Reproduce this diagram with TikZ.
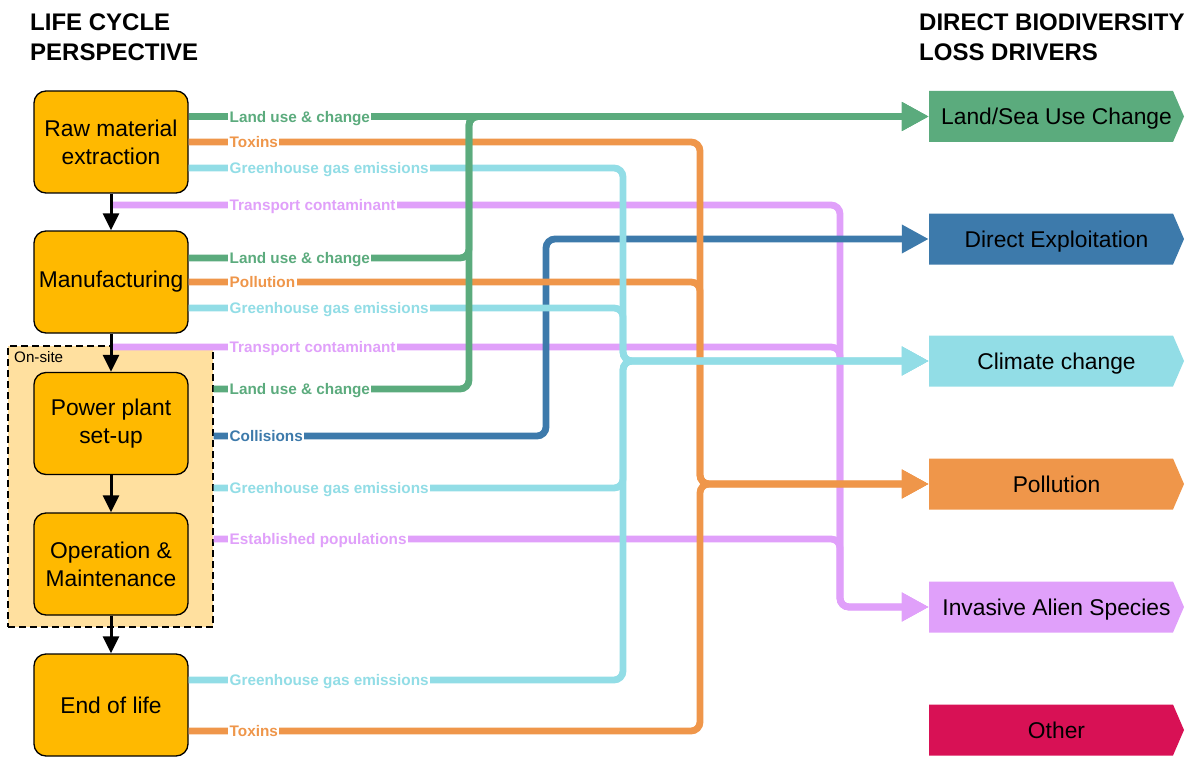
\documentclass[tikz,border=0pt]{standalone}
\usepackage{fontspec}
\setmainfont{Liberation Sans}
\usetikzlibrary{arrows.meta}
\definecolor{cgreen}{HTML}{5BAB7D}
\definecolor{cblue}{HTML}{3D7AAB}
\definecolor{ccyan}{HTML}{92DDE6}
\definecolor{corange}{HTML}{EF964A}
\definecolor{cviolet}{HTML}{E0A0FA}
\definecolor{ccrimson}{HTML}{D81155}
\definecolor{cbox}{HTML}{FFB900}
\definecolor{consite}{HTML}{FFE09F}
\tikzset{
 stage/.style={draw=black, line width=1.3pt, fill=cbox, rounded corners=12pt, minimum width=154pt, minimum height=102pt, align=center, inner sep=2pt, font=\fontsize{22.8}{28}\selectfont},
 driver/.style={minimum width=255pt, minimum height=51pt, inner sep=0pt, text height=16.4pt, text depth=0pt, font=\fontsize{22.8}{28}\selectfont},
 flow/.style={line width=6.8pt, rounded corners=9pt},
 tip/.style={-{Triangle[length=27pt,width=27pt]}},
 lbl/.style={anchor=base west, fill=white, inner xsep=1.5pt, inner ysep=1pt, font=\fontsize{15.3}{18}\selectfont\bfseries},
 ttl/.style={anchor=base west, inner sep=0pt, font=\fontsize{24}{28}\selectfont\bfseries},
 seqarrow/.style={line width=3pt, -{Triangle[length=17pt,width=16pt]}},
}
\begin{document}
\begin{tikzpicture}[x=1pt,y=-1pt]
\useasboundingbox (0,0) rectangle (1200,757);

% titles
\node[ttl] (t1) at (30,31) {LIFE CYCLE};
\node[ttl] (t2) at (30,61) {PERSPECTIVE};
\node[ttl] (t3) at (919,31) {DIRECT BIODIVERSITY};
\node[ttl] (t4) at (919,61) {LOSS DRIVERS};

% on-site area
\node[draw=black, dashed, dash pattern=on 7pt off 4pt, line width=1.1pt, fill=consite, minimum width=205pt, minimum height=281pt, inner sep=0pt] (onsite) at (110.5,486.5) {};
\node[anchor=base west, inner sep=0pt, font=\fontsize{15.2}{18}\selectfont] (onsitelbl) at (14,362) {On-site};

% life cycle stages
\node[stage] (raw) at (111,142) {Raw material\\extraction};
\node[stage] (manu) at (111,282) {Manufacturing};
\node[stage] (power) at (111,423.5) {Power plant\\set-up};
\node[stage] (oper) at (111,564) {Operation \&\\Maintenance};
\node[stage] (eol) at (111,705) {End of life};

% drivers
\fill[cgreen] (929,91) -- (1173,91) -- (1184,116.5) -- (1173,142) -- (929,142) -- cycle;
\node[driver] (land) at (1056.5,116.5) {Land/Sea Use Change};
\fill[cblue] (929,213.5) -- (1173,213.5) -- (1184,239) -- (1173,264.5) -- (929,264.5) -- cycle;
\node[driver] (dexp) at (1056.5,239) {Direct Exploitation};
\fill[ccyan] (929,335.5) -- (1173,335.5) -- (1184,361) -- (1173,386.5) -- (929,386.5) -- cycle;
\node[driver] (clim) at (1056.5,361) {Climate change};
\fill[corange] (929,458.5) -- (1173,458.5) -- (1184,484) -- (1173,509.5) -- (929,509.5) -- cycle;
\node[driver] (poll) at (1056.5,484) {Pollution};
\fill[cviolet] (929,581.5) -- (1173,581.5) -- (1184,607) -- (1173,632.5) -- (929,632.5) -- cycle;
\node[driver] (ias) at (1056.5,607) {Invasive Alien Species};
\fill[ccrimson] (929,704.5) -- (1173,704.5) -- (1184,730) -- (1173,755.5) -- (929,755.5) -- cycle;
\node[driver] (other) at (1056.5,730) {Other};

% violet flows
\draw[flow, cviolet, tip] (raw.south |- 0,205) -- (840,205) -- (840,607) -- (ias.west);
\draw[flow, cviolet, tip] (manu.south |- 0,347) -- (840,347) -- (840,607) -- (ias.west);
\draw[flow, cviolet, tip] (onsite.east |- 0,539) -- (840,539) -- (840,607) -- (ias.west);
% blue flow
\draw[flow, cblue, tip] (onsite.east |- 0,436) -- (546,436) -- (546,239) -- (dexp.west);
% orange flows
\draw[flow, corange, tip] (raw.east |- 0,142) -- (700,142) -- (700,484) -- (poll.west);
\draw[flow, corange, tip] (manu.east |- 0,282) -- (700,282) -- (700,484) -- (poll.west);
\draw[flow, corange, tip] (eol.east |- 0,731) -- (700,731) -- (700,484) -- (poll.west);
% cyan flows
\draw[flow, ccyan, tip] (raw.east |- 0,168) -- (623,168) -- (623,361) -- (clim.west);
\draw[flow, ccyan, tip] (manu.east |- 0,308) -- (623,308) -- (623,361) -- (clim.west);
\draw[flow, ccyan, tip] (onsite.east |- 0,488) -- (623,488) -- (623,361) -- (clim.west);
\draw[flow, ccyan, tip] (eol.east |- 0,680) -- (623,680) -- (623,361) -- (clim.west);
% green flows
\draw[flow, cgreen, tip] (raw.east |- land.west) -- (land.west);
\draw[flow, cgreen, tip] (manu.east |- 0,258) -- (469,258) -- (469,116.5) -- (land.west);
\draw[flow, cgreen, tip] (onsite.east |- 0,389) -- (469,389) -- (469,116.5) -- (land.west);

% labels
\node[lbl, text=cgreen] (l1) at (228,122.5) {Land use \& change};
\node[lbl, text=corange] (l2) at (228,147.5) {Toxins};
\node[lbl, text=ccyan] (l3) at (228,173.5) {Greenhouse gas emissions};
\node[lbl, text=cviolet] (l4) at (228,210.5) {Transport contaminant};
\node[lbl, text=cgreen] (l5) at (228,263.5) {Land use \& change};
\node[lbl, text=corange] (l6) at (228,287.5) {Pollution};
\node[lbl, text=ccyan] (l7) at (228,313.5) {Greenhouse gas emissions};
\node[lbl, text=cviolet] (l8) at (228,352.5) {Transport contaminant};
\node[lbl, text=cgreen] (l9) at (228,394.5) {Land use \& change};
\node[lbl, text=cblue] (l10) at (228,441.5) {Collisions};
\node[lbl, text=ccyan] (l11) at (228,493.5) {Greenhouse gas emissions};
\node[lbl, text=cviolet] (l12) at (228,544.5) {Established populations};
\node[lbl, text=ccyan] (l13) at (228,685.5) {Greenhouse gas emissions};
\node[lbl, text=corange] (l14) at (228,736.5) {Toxins};

% sequence arrows
\draw[seqarrow] (raw.south) -- (manu.north);
\draw[seqarrow] (manu.south) -- (power.north);
\draw[seqarrow] (power.south) -- (oper.north);
\draw[seqarrow] (oper.south) -- (eol.north);
\end{tikzpicture}
\end{document}
